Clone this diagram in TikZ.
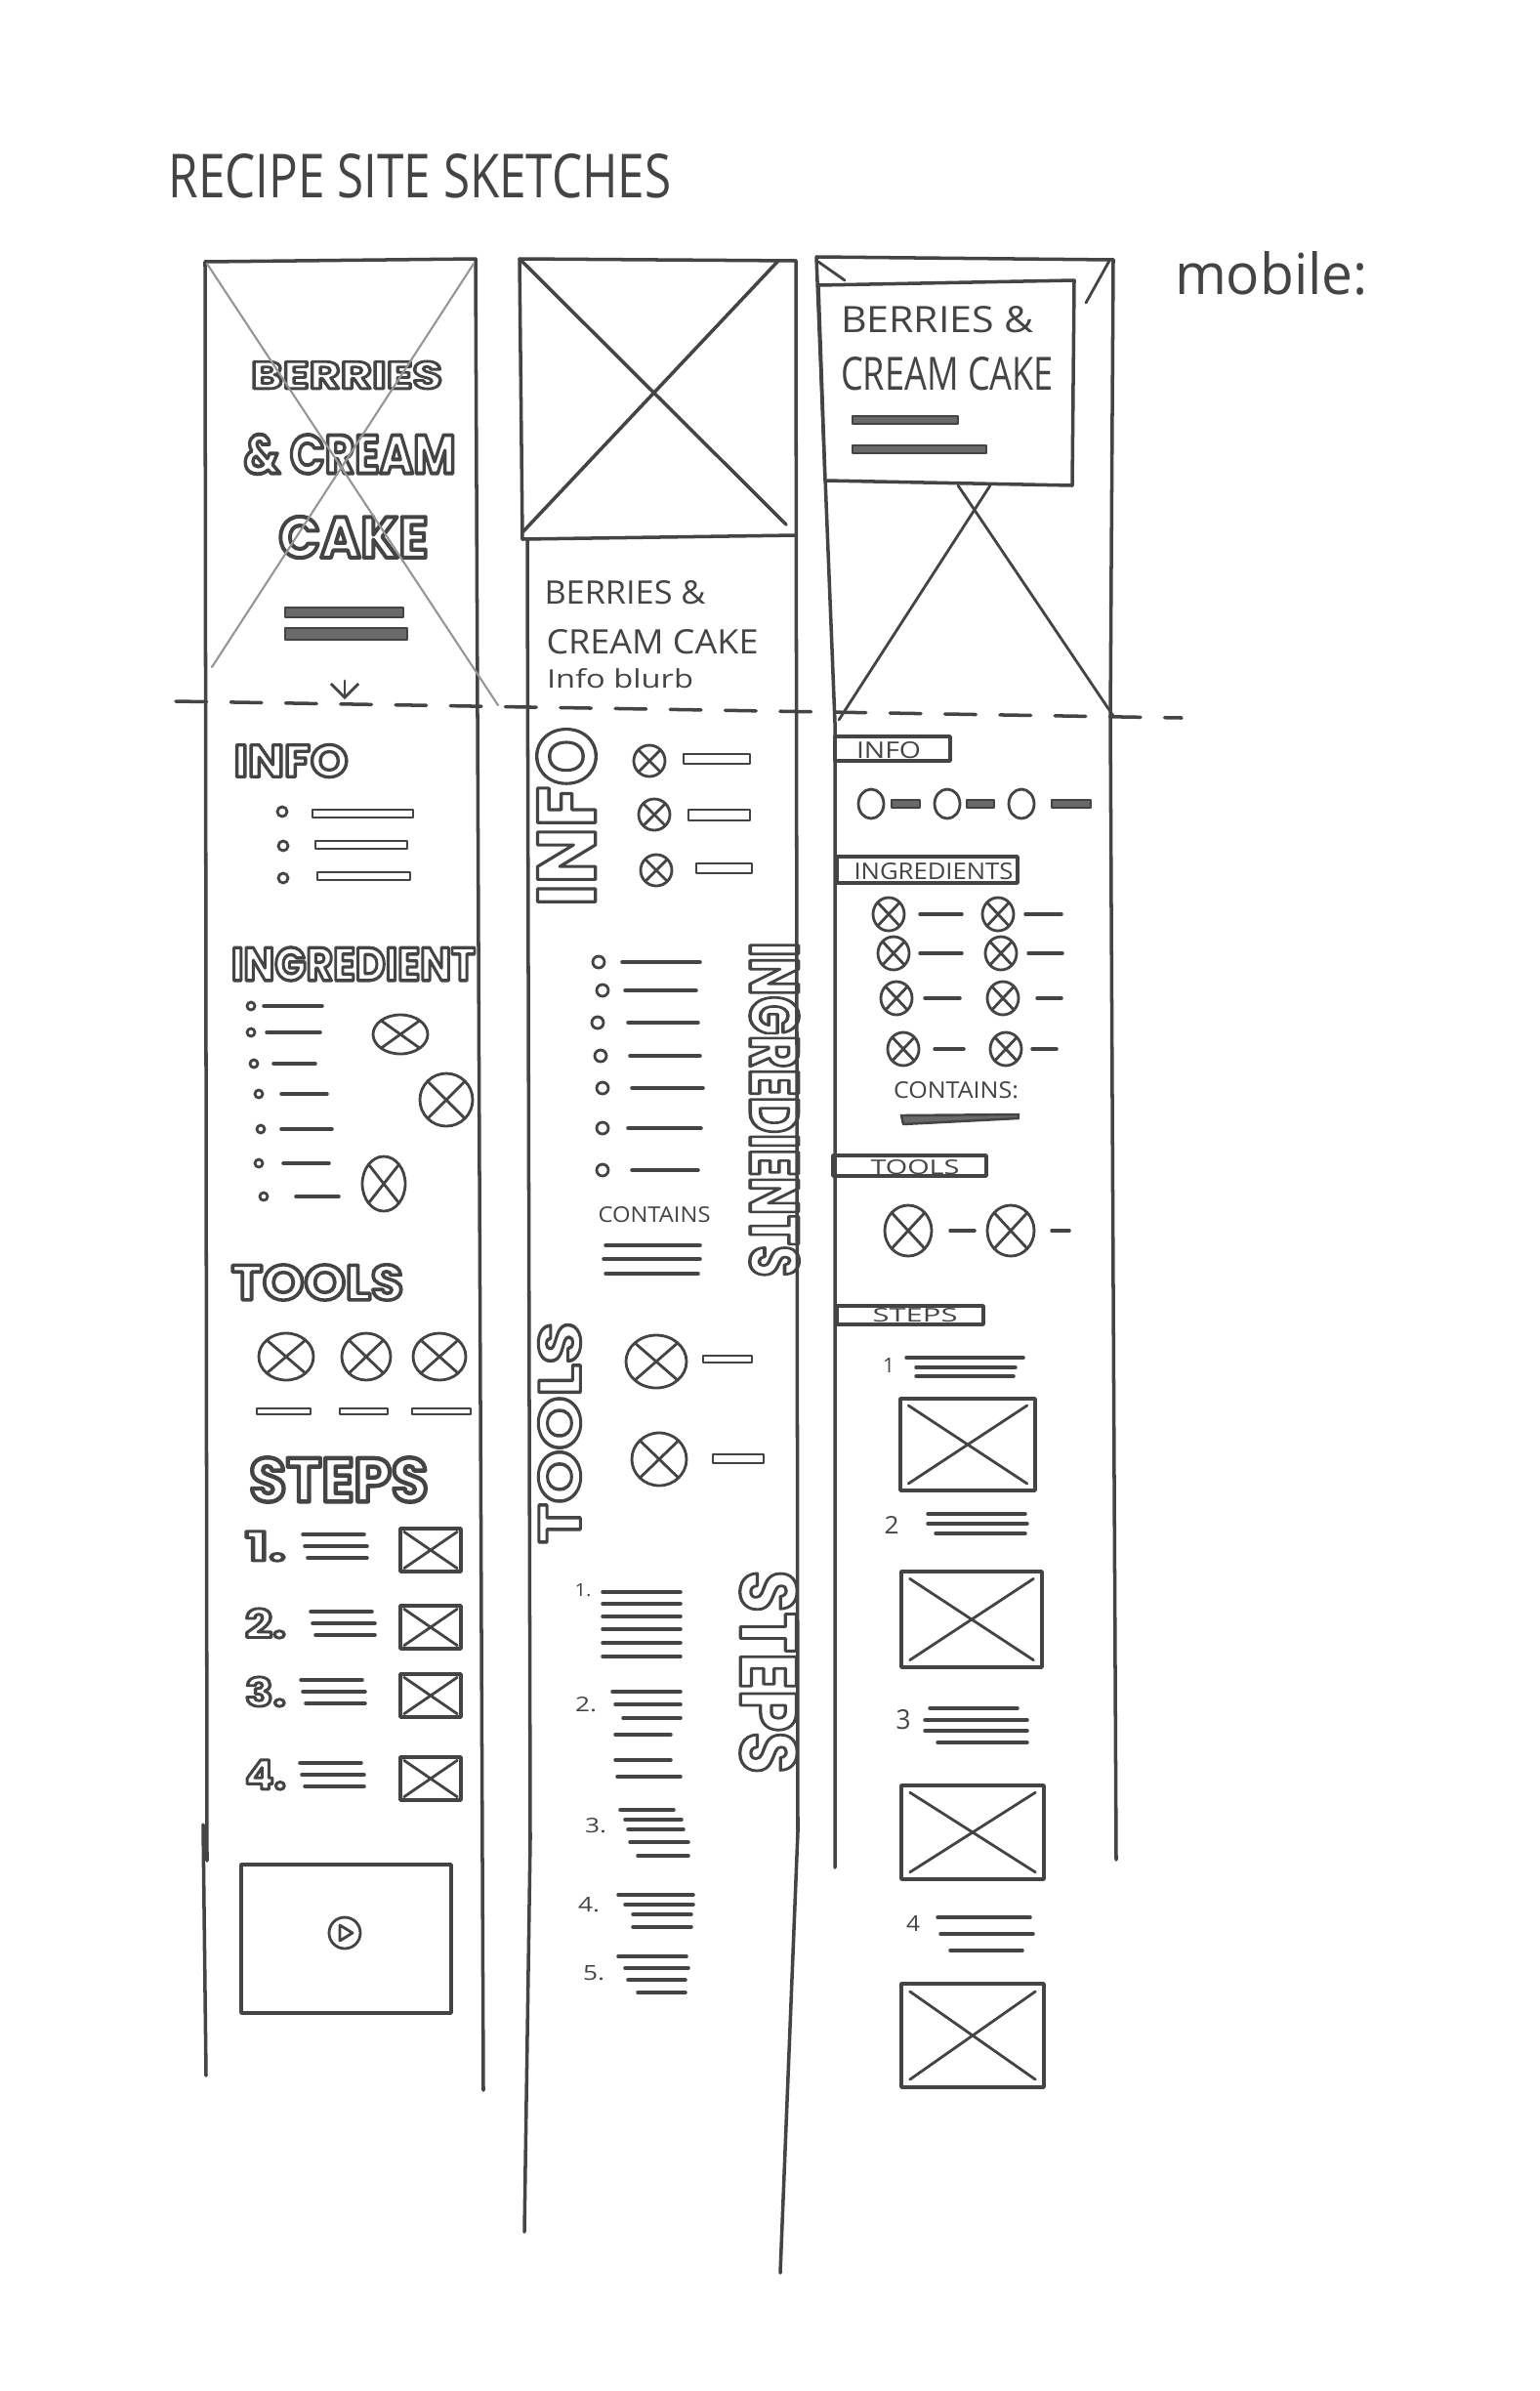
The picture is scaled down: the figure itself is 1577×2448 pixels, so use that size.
\documentclass[tikz,border=0pt]{standalone}
\usepackage{fontspec}
\setmainfont{Open Sans}
\newfontfamily\bubblefont{Poppins}
\usetikzlibrary{arrows.meta}

\definecolor{pencil}{RGB}{68,68,68}
\definecolor{lightpencil}{RGB}{150,150,150}

\newlength\pxu
\setlength{\pxu}{0.01cm}
\newcommand{\fitpx}[3]{\resizebox{#1\pxu}{#2\pxu}{#3}}
% hollow letters: stroke only
\newcommand{\bubble}[2][0.7]{{\bubblefont\bfseries\special{pdf:literal direct 1 Tr #1 w}#2\special{pdf:literal direct 0 Tr}}}

\begin{document}
\begin{tikzpicture}[
  x=0.01cm, y=-0.01cm, color=pencil, line width=1pt, line cap=round, line join=round,
  hand/.style={inner sep=0pt},
  faint/.style={draw=lightpencil, line width=0.6pt},
  fine/.style={line width=0.8pt},
  fillbar/.style={fill=pencil!80, line width=0.7pt},
  fold/.style={dash pattern=on 9pt off 7pt},
  xcirc/.pic={\draw[fine] (0,0) circle [radius=1] (-0.7,-0.7) -- (0.7,0.7) (-0.7,0.7) -- (0.7,-0.7);},
  ximg/.pic={\draw (-1,-1) rectangle (1,1); \draw[fine] (-0.88,-0.85) -- (0.88,0.85) (-0.88,0.85) -- (0.88,-0.85);}
]
\fill[white] (0,0) rectangle (1577,2448);
\useasboundingbox (0,0) rectangle (1577,2448);

\node[hand] (title) at (430,180) {\fitpx{515}{45}{RECIPE SITE SKETCHES}};
\node[hand] (mobile) at (1302,280) {\fitpx{198}{44}{mobile:}};

% fold
\draw[fold] (180,718) -- (1210,735);

% ---------- first sketch ----------
\draw (210,268) -- (487,265) -- (495,2140);
\draw (210,268) -- (212,1905);
\draw (208,1868) -- (211,2125);
\node[hand] (heroA) at (355,384) {\fitpx{196}{28}{\bubble{BERRIES}}};
\node[hand] (heroB) at (358,465) {\fitpx{217}{40}{\bubble{\& CREAM}}};
\node[hand] (heroC) at (362,550) {\fitpx{153}{42}{\bubble{CAKE}}};
\draw[faint] (212,270) -- (510,722);
\draw[faint] (485,270) -- (217,683);
\draw[fillbar] (292,622) rectangle (413,632);
\draw[fillbar] (292,643) rectangle (417,655);
\draw[fine, -{Straight Barb[length=4pt]}] (353,697) -- (353,716);

\node[hand] (infoA) at (298,779) {\fitpx{117}{33}{\bubble{INFO}}};
\foreach \y/\x in {831/289, 866/290, 899/290} \draw[fine] (\x,\y) circle [radius=5];
\draw[fine] (320,829) rectangle (423,837);
\draw[fine] (323,861) rectangle (417,869);
\draw[fine] (325,893) rectangle (420,901);

\node[hand] (ingA) at (362,987) {\fitpx{250}{34}{\bubble{INGREDIENT}}};
\foreach \y/\b/\s/\e in {1030/257/270/330, 1057/257/273/328, 1089/260/280/323, 1120/265/288/335,
  1156/267/288/340, 1191/265/290/337, 1225/270/303/347} {
  \draw[fine] (\b,\y) circle [radius=4];
  \draw (\s,\y) -- (\e,\y);
}
\pic[xscale=28, yscale=20] at (410,1059) {xcirc};
\pic[scale=27] at (457,1126) {xcirc};
\pic[xscale=22, yscale=28] at (393,1212) {xcirc};

\node[hand] (toolA) at (325,1313) {\fitpx{176}{36}{\bubble{TOOLS}}};
\foreach \x/\r in {293/28, 375/25, 450/27} \pic[xscale=\r, yscale=24] at (\x,1389) {xcirc};
\foreach \s/\e in {263/318, 348/397, 422/482} \draw[fine] (\s,1442) rectangle (\e,1448);

\node[hand] (stepA) at (347,1515) {\fitpx{183}{45}{\bubble{STEPS}}};
\foreach \n/\y/\s in {1/1583/310, 2/1662/318, 3/1732/308, 4/1817/307} {
  \node[hand] (numA\n) at (272,\y) {\fitpx{42}{30}{\bubble{\n.}}};
  \draw (\s,\y-12) -- (\s+63,\y-12) (\s+2,\y) -- (\s+66,\y) (\s+5,\y+12) -- (\s+66,\y+12);
  \pic[xscale=31, yscale=22] at (441,\y+4) {ximg};
}
\draw (247,1909) rectangle (462,2061);
\draw[fine] (353,1979) circle [radius=16];
\draw[fine] (348,1971) -- (348,1987) -- (361,1979) -- cycle;

% ---------- second sketch ----------
\draw (532,265) -- (815,267);
\draw (532,265) -- (535,552) -- (815,548);
\draw (535,268) -- (805,537);
\draw (797,267) -- (535,545);
\draw (540,552) -- (543,1883) -- (537,2285);
\draw (815,267) -- (817,1875) -- (799,2327);
\node[hand] (heroB1) at (640,607) {\fitpx{165}{24}{BERRIES \&}};
\node[hand] (heroB2) at (668,657) {\fitpx{217}{25}{CREAM CAKE}};
\node[hand] (blurb) at (635,695) {\fitpx{150}{20}{Info blurb}};

\node[hand, rotate=90] (infoB) at (580,836) {\fitpx{184}{60}{\bubble[0.4]{INFO}}};
\foreach \x/\y in {665/779, 670/834, 672/891} \pic[scale=16] at (\x,\y) {xcirc};
\draw[fine] (700,772) rectangle (768,782);
\draw[fine] (705,829) rectangle (768,840);
\draw[fine] (713,884) rectangle (770,894);

\node[hand, rotate=-90] (ingB) at (793,1136) {\fitpx{343}{50}{\bubble[0.5]{INGREDIENTS}}};
\foreach \y/\b/\s/\e in {985/613/637/717, 1014/617/640/713, 1047/612/643/715, 1081/615/645/717,
  1114/617/647/720, 1155/617/643/718, 1198/617/647/715} {
  \draw[fine] (\b,\y) circle [radius=6];
  \draw (\s,\y) -- (\e,\y);
}
\node[hand] (contB) at (670,1244) {\fitpx{115}{16}{CONTAINS}};
\draw (620,1275) -- (717,1275) (618,1289) -- (717,1289) (620,1304) -- (715,1304);

\node[hand, rotate=90] (toolB) at (573,1467) {\fitpx{227}{43}{\bubble[0.5]{TOOLS}}};
\pic[xscale=31, yscale=27] at (672,1394) {xcirc};
\pic[xscale=28, yscale=27] at (675,1494) {xcirc};
\draw[fine] (720,1388) rectangle (770,1395);
\draw[fine] (730,1489) rectangle (782,1498);

\node[hand, rotate=-90] (stepB) at (787,1712) {\fitpx{208}{58}{\bubble[0.4]{STEPS}}};
\node[hand] (numB1) at (597,1628) {\fitpx{17}{13}{1.}};
\foreach \y in {1630, 1642, 1655, 1668, 1682, 1696} \draw (617,\y) -- (697,\y);
\node[hand] (numB2) at (600,1745) {\fitpx{22}{15}{2.}};
\foreach \y/\s/\e in {1732/627/697, 1745/630/697, 1759/638/697, 1776/630/687, 1802/630/687, 1819/632/697}
  \draw (\s,\y) -- (\e,\y);
\node[hand] (numB3) at (610,1869) {\fitpx{22}{15}{3.}};
\foreach \y/\s/\e in {1853/635/690, 1863/640/698, 1873/643/700, 1886/645/705, 1900/653/705}
  \draw (\s,\y) -- (\e,\y);
\node[hand] (numB4) at (603,1950) {\fitpx{22}{15}{4.}};
\foreach \y/\s/\e in {1940/633/710, 1950/640/710, 1960/648/708, 1973/648/708}
  \draw (\s,\y) -- (\e,\y);
\node[hand] (numB5) at (608,2020) {\fitpx{22}{15}{5.}};
\foreach \y/\s/\e in {2003/633/703, 2015/640/705, 2027/643/702, 2040/653/702}
  \draw (\s,\y) -- (\e,\y);

% ---------- third sketch (mobile) ----------
\draw (836,263) -- (1140,266);
\draw (836,263) -- (855,740) -- (855,1912);
\draw (1140,266) -- (1137,735) -- (1143,1904);
\draw[fine] (838,268) -- (865,287);
\draw[fine] (1136,267) -- (1112,310);
\draw[fill=white] (838,292) -- (1100,287) -- (1098,497) -- (845,492) -- cycle;
\node[hand] (heroC1) at (960,327) {\fitpx{198}{27}{BERRIES \&}};
\node[hand] (heroC2) at (970,383) {\fitpx{218}{34}{CREAM CAKE}};
\draw[fillbar] (873,426) rectangle (981,434);
\draw[fillbar] (873,456) rectangle (1010,464);
\draw[fine] (981,497) -- (1140,733);
\draw[fine] (1014,497) -- (859,737);

\draw (855,754) rectangle (973,779);
\node[hand] (infoC) at (910,768) {\fitpx{66}{17}{INFO}};
\foreach \x in {892, 970, 1046} \draw[fine] (\x,823) circle [x radius=13, y radius=15];
\foreach \s/\e in {913/942, 990/1018, 1077/1117} \draw[fillbar] (\s,819) rectangle (\e,827);

\draw (857,877) rectangle (1042,904);
\node[hand] (ingC) at (956,892) {\fitpx{163}{17}{INGREDIENTS}};
\foreach \y/\xa/\sa/\ea/\xb/\sb/\eb in {936/910/942/985/1022/1050/1087, 976/915/942/985/1025/1053/1088,
  1022/918/947/983/1027/1062/1087, 1074/925/957/987/1030/1057/1082} {
  \pic[xscale=16, yscale=17] at (\xa,\y) {xcirc};
  \pic[xscale=16, yscale=17] at (\xb,\y) {xcirc};
  \draw (\sa,\y) -- (\ea,\y) (\sb,\y) -- (\eb,\y);
}
\node[hand] (contC) at (979,1116) {\fitpx{128}{17}{CONTAINS:}};
\draw[fillbar] (923,1142) -- (1043,1141) -- (1043,1145) -- (925,1151) -- cycle;

\draw (853,1183) rectangle (1010,1204);
\node[hand] (toolC) at (937,1195) {\fitpx{91}{15}{TOOLS}};
\pic[xscale=24, yscale=26] at (930,1260) {xcirc};
\pic[xscale=24, yscale=26] at (1035,1260) {xcirc};
\draw (973,1260) -- (998,1260) (1077,1260) -- (1095,1260);

\draw (857,1337) rectangle (1007,1356);
\node[hand] (stepC) at (937,1347) {\fitpx{87}{14}{STEPS}};
\node[hand] (numC1) at (910,1398) {\fitpx{12}{15}{1}};
\draw (928,1390) -- (1048,1390) (938,1400) -- (1040,1400) (938,1409) -- (1038,1409);
\pic[xscale=69, yscale=47] at (991,1479) {ximg};
\node[hand] (numC2) at (913,1561) {\fitpx{15}{18}{2}};
\draw (950,1550) -- (1050,1550) (950,1560) -- (1052,1560) (958,1570) -- (1050,1570);
\pic[xscale=72, yscale=49] at (995,1658) {ximg};
\node[hand] (numC3) at (925,1761) {\fitpx{15}{20}{3}};
\draw (952,1749) -- (1042,1749) (947,1761) -- (1052,1761) (947,1772) -- (1052,1772) (960,1784) -- (1052,1784);
\pic[xscale=73, yscale=48] at (996,1876) {ximg};
\node[hand] (numC4) at (935,1969) {\fitpx{14}{16}{4}};
\draw (960,1963) -- (1055,1963) (963,1980) -- (1058,1980) (973,1997) -- (1047,1997);
\pic[xscale=73, yscale=53] at (996,2084) {ximg};
\end{tikzpicture}
\end{document}
